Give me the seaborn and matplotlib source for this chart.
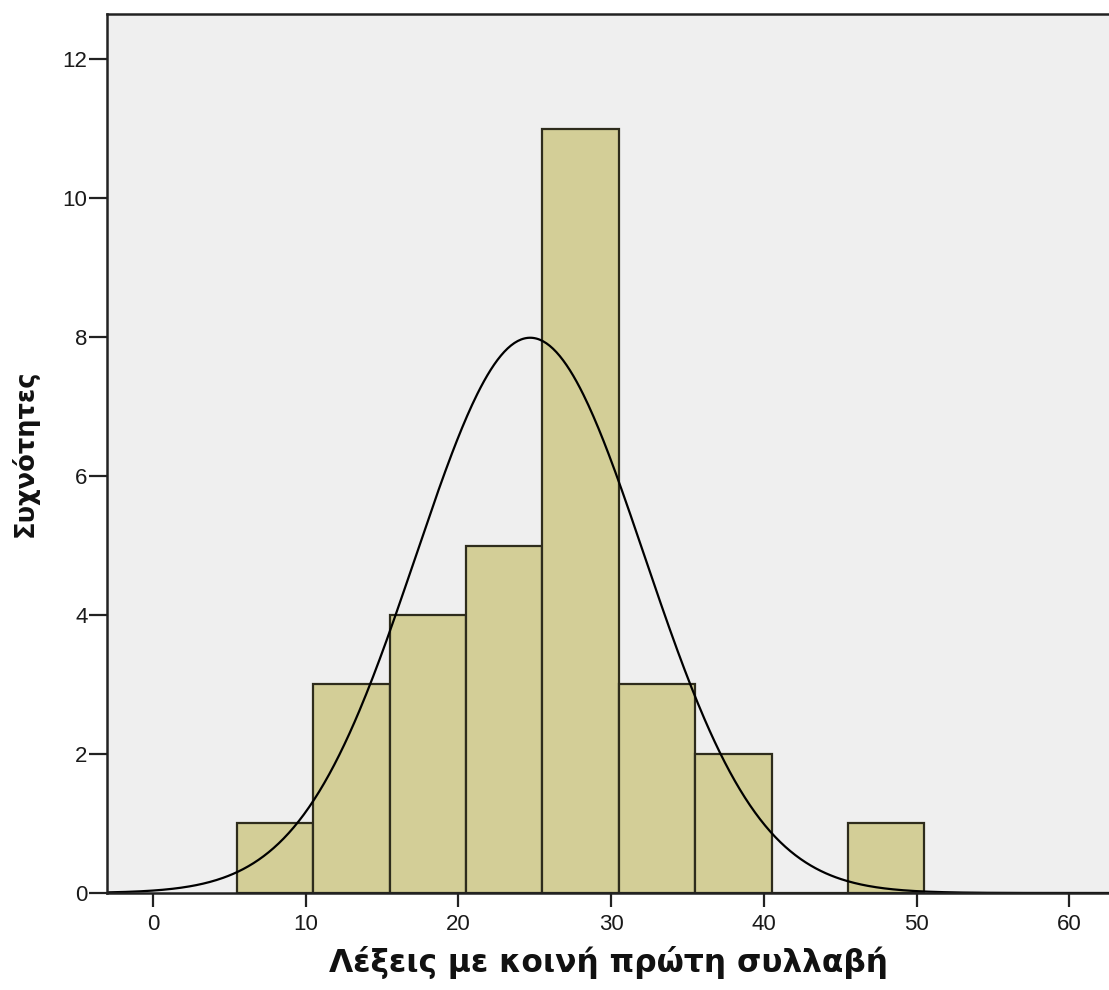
"""histogram with normal curve: words with a common first syllable"""

import numpy as np
import pandas as pd
import matplotlib

matplotlib.use("Agg")
import matplotlib.pyplot as plt
import seaborn as sns

# bin centres and frequencies (bin width 5, edges at x.5)
bin_centres = [8, 13, 18, 23, 28, 33, 38, 43, 48]
frequencies = [1, 3, 4, 5, 11, 3, 2, 0, 1]
bin_edges = [5.5, 10.5, 15.5, 20.5, 25.5, 30.5, 35.5, 40.5, 45.5, 50.5]

# fitted normal curve as shown
curve_mean = 24.7
curve_sd = 7.49
n_total = 30
bin_width = 5

x_ticks = [0, 10, 20, 30, 40, 50, 60]
y_ticks = [0, 2, 4, 6, 8, 10, 12]

x_label = "Λέξεις με κοινή πρώτη συλλαβή"
y_label = "Συχνότητες"

sns.set_theme(style="white")
plt.rcParams["font.family"] = ["Liberation Sans", "DejaVu Sans"]

fig = plt.figure(figsize=(11.09, 9.9), dpi=100)
ax = fig.add_axes([0.0965, 0.098, 0.905, 0.888])
ax.set_facecolor("#EFEFEF")

df = pd.DataFrame({"value": bin_centres, "count": frequencies})
sns.histplot(
    data=df, x="value", weights="count", bins=bin_edges,
    color="#D3CE97", edgecolor="#2e2c1c", linewidth=1.6, alpha=1.0, ax=ax,
)

xs = np.linspace(-3, 63, 600)
ys = n_total * bin_width / (curve_sd * np.sqrt(2 * np.pi)) * np.exp(
    -0.5 * ((xs - curve_mean) / curve_sd) ** 2
)
sns.lineplot(x=xs, y=ys, color="black", linewidth=1.6, ax=ax)

ax.set_xlim(-3.0, 62.7)
ax.set_ylim(0, 12.65)
ax.set_xticks(x_ticks)
ax.set_yticks(y_ticks)
ax.tick_params(axis="both", direction="out", width=1.6,
               color="#222222", labelcolor="#1a1a1a",
               bottom=True, left=True)
ax.tick_params(axis="x", length=10, pad=5, labelsize=16)
ax.tick_params(axis="y", length=13, pad=1, labelsize=16)

for side in ["left", "top", "bottom"]:
    ax.spines[side].set_visible(True)
    ax.spines[side].set_color("#222222")
    ax.spines[side].set_linewidth(1.8)
ax.spines["right"].set_visible(False)

label_font = {"family": "DejaVu Sans", "weight": "bold", "color": "#111111"}
ax.set_xlabel(x_label, fontsize=22.5, labelpad=8, fontdict=label_font)
ax.set_ylabel(y_label, fontsize=18.5, labelpad=17, fontdict=label_font)

plt.savefig("out.png", dpi=100)
plt.close()
